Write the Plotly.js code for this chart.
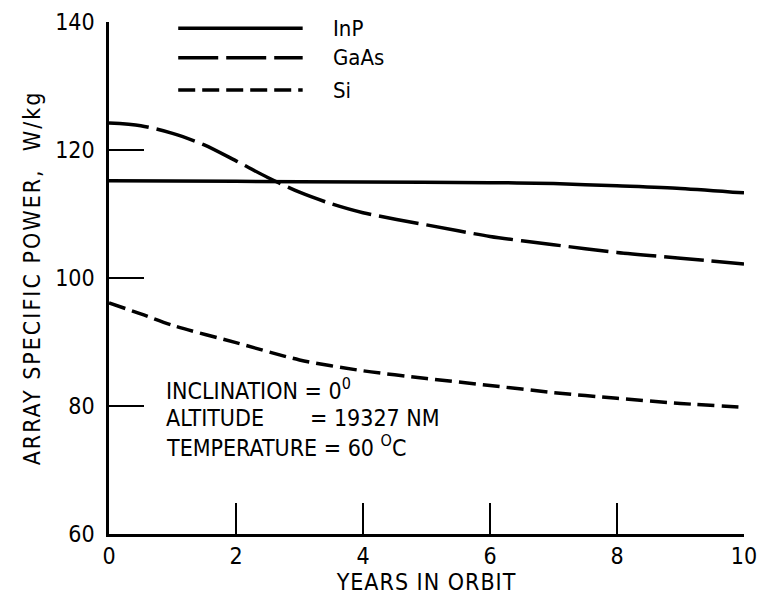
<!DOCTYPE html>
<html>
<head>
<meta charset="utf-8">
<script src="https://cdn.plot.ly/plotly-3.0.1.min.js"></script>
<style>
html,body{margin:0;padding:0;background:#fff;}
#chart{width:761px;height:601px;}
#chart .ytitle{letter-spacing:2px;}
#chart .xtitle{letter-spacing:1px;}
</style>
</head>
<body>
<div id="chart"></div>
<script>
// Data
const inpYears = [0, 2, 4, 6, 7, 8, 9, 10];
const inpPower = [115.2, 115.1, 115.0, 114.9, 114.75, 114.4, 114.0, 113.3];

const gaasYears = [0, 0.5, 1, 1.5, 2, 2.5, 3, 3.5, 4, 5, 6, 7, 8, 9, 10];
const gaasPower = [124.2, 123.8, 122.6, 120.8, 118.3, 115.7, 113.4, 111.6, 110.2, 108.3, 106.5, 105.2, 104.0, 103.1, 102.2];

const siYears = [0, 0.5, 1, 2, 3, 4, 5, 6, 7, 8, 9, 10];
const siPower = [96.1, 94.4, 92.6, 89.9, 87.2, 85.5, 84.3, 83.2, 82.1, 81.2, 80.4, 79.8];

const xTicks = [0, 2, 4, 6, 8, 10];
const yTicks = [60, 80, 100, 120, 140];

const seriesNames = ['InP', 'GaAs', 'Si'];
const noteLines = ['INCLINATION = 0<sup>0</sup>', 'ALTITUDE&nbsp;&nbsp;&nbsp;&nbsp;&nbsp;&nbsp;&nbsp;= 19327 NM', 'TEMPERATURE = 60 <sup>O</sup>C'];

const font = '"DejaVu Sans Condensed", "Liberation Sans Narrow", sans-serif';

const dashes = ['solid', '40px,8px', '17px,7px'];
const lw = 3.5;

const traces = [
  {x: inpYears, y: inpPower, name: seriesNames[0], mode: 'lines', line: {color: '#000', width: lw, dash: dashes[0], shape: 'spline', smoothing: 0.8}},
  {x: gaasYears, y: gaasPower, name: seriesNames[1], mode: 'lines', line: {color: '#000', width: lw, dash: dashes[1], shape: 'spline', smoothing: 0.8}},
  {x: siYears, y: siPower, name: seriesNames[2], mode: 'lines', line: {color: '#000', width: lw, dash: dashes[2], shape: 'spline', smoothing: 0.8}}
];

// Legend drawn as shapes + text (long sample lines as in the reference)
const legY = [0.988, 0.930, 0.867];
const shapes = seriesNames.map((n, i) => ({
  type: 'line', xref: 'paper', yref: 'paper', x0: 0.109, x1: 0.305, y0: legY[i], y1: legY[i],
  line: {color: '#000', width: lw, dash: dashes[i]}
}));
const annotations = seriesNames.map((n, i) => ({
  xref: 'paper', yref: 'paper', x: 0.349, y: legY[i], xanchor: 'left', yanchor: 'middle',
  text: n, showarrow: false, font: {family: font, size: 22, color: '#000'}
}));
const noteY = [0.284, 0.227, 0.172];
noteLines.forEach((t, i) => annotations.push({
  xref: 'paper', yref: 'paper', x: 0.086, y: noteY[i], xanchor: 'left', yanchor: 'middle',
  text: t, showarrow: false, font: {family: font, size: 23, color: '#000'}
}));

const layout = {
  width: 761, height: 601,
  margin: {l: 109, r: 17, t: 22, b: 67},
  paper_bgcolor: '#fff', plot_bgcolor: '#fff',
  showlegend: false,
  xaxis: {
    range: [0, 10], tickvals: xTicks, ticktext: xTicks.map(String),
    showgrid: false, zeroline: false, showline: true, linecolor: '#000', linewidth: 2.7,
    ticks: 'inside', ticklen: 31, tickwidth: 2.7, tickcolor: '#000',
    tickfont: {family: font, size: 23, color: '#000'},
    title: {text: 'YEARS IN ORBIT', font: {family: font, size: 23, color: '#000'}, standoff: 4}
  },
  yaxis: {
    range: [60, 140], tickvals: yTicks, ticktext: yTicks.map(String),
    showgrid: false, zeroline: false, showline: true, linecolor: '#000', linewidth: 2.7,
    ticks: 'inside', ticklen: 35, tickwidth: 2.7, tickcolor: '#000', ticklabelstandoff: 7,
    tickfont: {family: font, size: 23, color: '#000'},
    title: {text: 'ARRAY SPECIFIC POWER,  W/kg', font: {family: font, size: 23, color: '#000'}, standoff: 9}
  },
  shapes: shapes,
  annotations: annotations
};

Plotly.newPlot('chart', traces, layout, {displayModeBar: false, staticPlot: true});
</script>
</body>
</html>
